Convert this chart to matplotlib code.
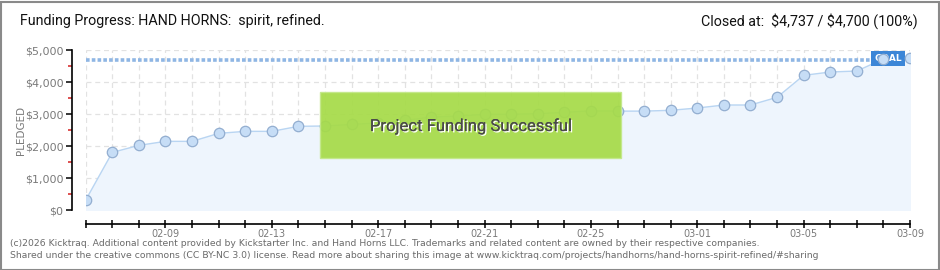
import matplotlib
matplotlib.use("Agg")
import matplotlib.pyplot as plt
import matplotlib.patches as mpatches
import matplotlib.patheffects as pe
from matplotlib.ticker import FixedLocator, MultipleLocator, FuncFormatter

# ---- data ----
dates = ["02-06", "02-07", "02-08", "02-09", "02-10", "02-11", "02-12", "02-13",
         "02-14", "02-15", "02-16", "02-17", "02-18", "02-19", "02-20", "02-21",
         "02-22", "02-23", "02-24", "02-25", "02-26", "02-27", "02-28", "03-01",
         "03-02", "03-03", "03-04", "03-05", "03-06", "03-07", "03-08", "03-09"]
pledged = [310, 1800, 2020, 2145, 2145, 2395, 2458, 2458,
           2615, 2625, 2675, 2720, 2800, 2905, 2935, 2990,
           2990, 3010, 3050, 3100, 3090, 3090, 3115, 3187,
           3281, 3281, 3521, 4208, 4312, 4343, 4720, 4737]
goal = 4700
yticks = [0, 1000, 2000, 3000, 4000, 5000]
label_dates = ["02-09", "02-13", "02-17", "02-21", "02-25", "03-01", "03-05", "03-09"]

title_left = "Funding Progress: HAND HORNS:  spirit, refined."
title_right = "Closed at:  \\$4,737 / \\$4,700 (100%)"
footer1 = ("(c)2026 Kicktraq. Additional content provided by Kickstarter Inc. and Hand Horns LLC. "
           "Trademarks and related content are owned by their respective companies.")
footer2 = ("Shared under the creative commons (CC BY-NC 3.0) license. Read more about sharing this image at "
           "www.kicktraq.com/projects/handhorns/hand-horns-spirit-refined/#sharing")

W, H = 940, 270
fig = plt.figure(figsize=(9.4, 2.7), dpi=100)
fig.patch.set_facecolor("white")

# border
fig.add_artist(mpatches.Rectangle((0.5 / W, 0.5 / H), 1 - 2 / W, 1 - 2 / H,
                                  transform=fig.transFigure, fill=False,
                                  edgecolor="#8a8a8a", linewidth=1.5))

x0, x1 = 85.7, 910
y_top, y_bot = 50, 210
ax = fig.add_axes([x0 / W, (H - y_bot) / H, (x1 - x0) / W, (y_bot - y_top) / H])
n = len(dates)
xs = list(range(n))
ax.set_xlim(0, n - 1)
ax.set_ylim(0, 5000)

# grid
for v in yticks:
    ax.axhline(v, color="#e2e2e2", lw=0.9, ls=(0, (4, 3)), zorder=0)
for x in xs:
    ax.axvline(x, color="#e2e2e2", lw=0.9, ls=(0, (4, 3)), zorder=0)

# area + line + markers
ax.fill_between(xs, pledged, 0, color="#eef5fd", zorder=1)
ax.plot(xs, pledged, color="#b9d5f2", lw=1.0, zorder=2)
ax.axhline(goal, color="#8fb6e4", lw=2.6, ls=(0, (1.0, 0.6)), zorder=2)
ax.plot(xs, pledged, ls="none", marker="o", ms=7.5, mfc="#c6ddf6", mec="#93aed0",
        mew=0.9, zorder=4)

# goal label
gx = (888 - x0) / ((x1 - x0) / (n - 1))
ax.text(gx, goal + 30, "GOAL", color="white", fontsize=6.5, ha="center",
        va="center", zorder=3, fontweight="bold",
        bbox=dict(boxstyle="square,pad=0.3", fc="#3c86d7", ec="none"))

# spines / ticks
for s in ["top", "right"]:
    ax.spines[s].set_visible(False)
ax.spines["left"].set_position(("outward", 10))
ax.spines["bottom"].set_position(("outward", 10))
ax.spines["left"].set_color("black")
ax.spines["bottom"].set_color("black")
ax.spines["left"].set_linewidth(1.2)
ax.spines["bottom"].set_linewidth(1.2)

ax.yaxis.set_major_locator(FixedLocator(yticks))
ax.yaxis.set_minor_locator(MultipleLocator(500))
ax.yaxis.set_major_formatter(FuncFormatter(lambda v, p: "${:,.0f}".format(v)))
ax.tick_params(axis="y", which="major", length=4, width=1.1, color="black",
               labelsize=8, labelcolor="#7a7a7a", pad=2)
ax.tick_params(axis="y", which="minor", length=3, width=1.1, color="#d42020")

ax.xaxis.set_major_locator(FixedLocator(xs))
ax.xaxis.set_major_formatter(FuncFormatter(
    lambda v, p: dates[int(round(v))] if 0 <= int(round(v)) < n and dates[int(round(v))] in label_dates else ""))
ax.tick_params(axis="x", which="major", direction="inout", length=6, width=1.1,
               color="black", labelsize=7, labelcolor="#7a7a7a", pad=0.5)

fig.text(21 / W, 1 - 130 / H, "PLEDGED", rotation=90, fontsize=7.5, color="#7a7a7a",
         ha="center", va="center")

# titles
fig.text(20 / W, 1 - 21 / H, title_left, fontsize=10.3, color="#111111",
         ha="left", va="center", family=["Roboto", "DejaVu Sans"])
fig.text(918 / W, 1 - 21 / H, title_right, fontsize=10.3, color="#111111",
         ha="right", va="center", family=["Roboto", "DejaVu Sans"])

# success banner
bx0, bx1, by0, by1 = 320, 621, 92, 158
fig.add_artist(mpatches.Rectangle((bx0 / W, (H - by1) / H), (bx1 - bx0) / W, (by1 - by0) / H,
                                  transform=fig.transFigure, fc="#a6db48", ec="#c3e88a",
                                  lw=1, alpha=0.93, zorder=10))
fig.text((bx0 + bx1) / 2 / W, 1 - 126 / H, "Project Funding Successful", fontsize=12,
         color="#4a4a4a", ha="center", va="center", zorder=11,
         family=["Roboto", "DejaVu Sans"],
         path_effects=[pe.withSimplePatchShadow(offset=(1, -1), shadow_rgbFace="white", alpha=1.0),
                       pe.Normal()])

# footer
fig.text(10 / W, 1 - 243 / H, footer1, fontsize=6.7, color="#6a6a6a", ha="left", va="center")
fig.text(10 / W, 1 - 255 / H, footer2, fontsize=6.7, color="#6a6a6a", ha="left", va="center")

fig.savefig("out.png", dpi=100, facecolor="white")
